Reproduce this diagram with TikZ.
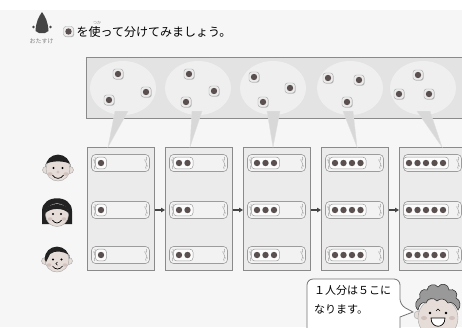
\documentclass[tikz,border=0pt]{standalone}
\usepackage{fontspec}
\newfontfamily\jp{Noto Sans CJK JP}
\usetikzlibrary{arrows.meta,shapes.geometric,calc}

\definecolor{pagebg}{HTML}{F6F6F6}
\definecolor{boxfill}{HTML}{E3E3E3}
\definecolor{boxline}{HTML}{8A8A8A}
\definecolor{colfill}{HTML}{EBEBEB}
\definecolor{trayfill}{HTML}{F2F2F2}
\definecolor{trayline}{HTML}{9C9C9C}
\definecolor{dotcol}{HTML}{5A5050}
\definecolor{skin}{HTML}{E6DDD8}
\definecolor{cheek}{HTML}{D2C2BE}
\definecolor{hair}{HTML}{222222}
\definecolor{tailfill}{HTML}{D8D8D8}
\definecolor{inkgray}{HTML}{444444}

\tikzset{
  colbox/.style={draw=boxline, fill=colfill, line width=0.8pt, minimum width=67pt,
    minimum height=123pt, inner sep=0pt},
  tray/.style={draw=trayline, fill=trayfill, rounded corners=4pt, minimum width=58pt,
    minimum height=17pt, line width=0.6pt, inner sep=0pt},
  innerbox/.style={draw=trayline, fill=white!80!trayfill, rounded corners=3pt, line width=0.5pt},
  dot/.style={fill=dotcol},
  arr/.style={draw=inkgray, line width=1.3pt, -{Triangle[length=4pt,width=4.5pt]}},
  blob/.style={ellipse, fill=white, fill opacity=0.45, minimum width=66pt, minimum height=54pt, inner sep=0pt},
  tail/.style={fill=tailfill, draw=white!75!gray, line width=0.4pt},
  facestyle/.style={fill=skin, draw=gray!70, line width=0.4pt},
  bubble/.style={fill=white, draw=gray!90!black, line width=0.8pt, rounded corners=6pt},
  token/.pic={
    \fill[gray!55, rounded corners=2.5pt] (-4.2,-4.2) rectangle (5.6,5.6);
    \draw[fill=white!85!gray, draw=gray!70, line width=0.4pt, rounded corners=2.5pt] (-5,-5) rectangle (5,5);
    \fill[dotcol] (0,0) circle (3.2pt);
  },
  orn/.pic={
    \draw[gray!70, line width=0.5pt] (0,-6) .. controls (2,-4) and (-2,-2) .. (0,0)
      .. controls (2,2) and (-2,4) .. (0,6);
    \fill[gray!55] (-1.3,-3) circle (0.7pt) (1.3,3) circle (0.7pt);
  }
}

\begin{document}
\begin{tikzpicture}[x=1pt,y=-1pt]
\useasboundingbox (0,0) rectangle (462,327);
\fill[pagebg] (0,0) rectangle (462,327);
\fill[white] (0,0) rectangle (462,10);

% header: helper mark and instruction
\fill[inkgray] (42,12) .. controls (45.5,17) and (48,22) .. (48.5,31) -- (45,33)
  -- (39,33) -- (35.5,31) .. controls (36,22) and (38.5,17) .. (42,12) -- cycle;
\fill[inkgray] (33.5,27) circle (1.4pt) (50.5,27) circle (1.4pt);
\node[font=\jp\fontsize{6}{6}\selectfont, text=gray] (help) at (41.5,41.5) {おたすけ};
\pic at (68.5,31.5) {token};
\node[font=\jp\fontsize{12}{13}\selectfont, anchor=west, inner sep=0pt] (title) at (76.5,31.5)
  {を使って分けてみましょう。};
\node[font=\jp\fontsize{4}{4}\selectfont, text=gray] (ruby) at (97,22.5) {つか};

% strip holding the loose tokens
\node[draw=boxline, fill=boxfill, line width=0.9pt, anchor=north west, minimum width=390pt,
  minimum height=61pt, inner sep=0pt] (strip) at (86,57) {};

\foreach \b/\bx in {1/123,2/198,3/273,4/350,5/423} {
  \node[blob] (b\b) at (\bx,88) {};
}

% columns with trays
\foreach \c/\xl/\off in {1/87/14,2/165/14,3/243/14,4/321/14,5/399/10} {
  \node[colbox, anchor=north west] (col\c) at (\xl,147) {};
  \foreach \r/\yy in {1/163,2/210,3/255} {
    \node[tray] (t\c\r) at (\xl+33.5,\yy) {};
    \pic at ([xshift=3.6pt]t\c\r.west) {orn};
    \pic at ([xshift=-3.6pt]t\c\r.east) {orn};
    \draw[innerbox] (\xl+\off-5.5,\yy-5.8) rectangle (\xl+\off+8.5*\c-8.5+5.5,\yy+5.8);
    \foreach \k in {1,...,\c} {
      \fill[dot] (\xl+\off+8.5*\k-8.5,\yy) circle (3.2pt);
    }
  }
}

% pointers from each group to its column
\foreach \b/\lo/\hi/\tip in {1/-8/5/21,2/-6/4/25,3/-6/7/30,4/-7/3/36,5/-6/7/43} {
  \filldraw[tail] ([xshift=\lo pt, yshift=4pt]b\b.south) -- ([xshift=\hi pt, yshift=4pt]b\b.south)
    -- ($(col\b.north west)+(\tip,0)$) -- cycle;
}

% loose tokens
\foreach \p in {(118,74),(109,100),(146,92),
                (189,74),(186,102),(214,91),
                (254,77),(290,88),(263,102),
                (328,78),(359,80),(347,102),
                (418,75),(399,94),(429,94)} {
  \pic at \p {token};
}

% arrows between columns (middle row)
\foreach \c/\d in {1/2,2/3,3/4,4/5} {
  \draw[arr] (col\c.east |- t\c2) -- (col\d.west |- t\d2);
}

% face 1: boy
\filldraw[facestyle] (46,170) circle (3.5pt) (70,170) circle (3.5pt);
\node[circle, facestyle, minimum size=24pt, inner sep=0pt] (face1) at (58,169) {};
\fill[hair] (45.6,167) arc[start angle=180, end angle=0, radius=12.4pt]
  -- (70.4,164) .. controls (64,160.5) and (52,160.5) .. (45.6,164) -- cycle;
\fill[cheek] (50,174) ellipse (2.6pt and 1.8pt) (66,174) ellipse (2.6pt and 1.8pt);
\fill[black] (53.5,168) circle (1.2pt) (62.5,168) circle (1.2pt);
\fill[cheek] (58,172) circle (1.6pt);
\draw[black, line width=0.7pt] (52.5,175) .. controls (55,179.5) and (61,179.5) .. (63.5,175);

% face 2: girl with bob hair
\fill[hair] (42,224) -- (42,211) .. controls (42,194) and (72,194) .. (72,211)
  -- (72,224) -- cycle;
\filldraw[facestyle] (57,215) circle (11.5pt);
\fill[hair] (45.5,213) .. controls (45.5,201) and (68.5,201) .. (68.5,213)
  .. controls (63,207.5) and (51,207.5) .. (45.5,213) -- cycle;
\fill[cheek] (50,219) ellipse (2.4pt and 1.7pt) (64,219) ellipse (2.4pt and 1.7pt);
\fill[black] (53,214) circle (1.1pt) (61,214) circle (1.1pt);
\draw[black, line width=0.7pt] (52.5,220) .. controls (55,224) and (59,224) .. (61.5,220);

% face 3: boy with side part
\filldraw[facestyle] (45,261) circle (3.5pt) (69,261) circle (3.5pt);
\node[circle, facestyle, minimum size=24pt, inner sep=0pt] (face3) at (57,260) {};
\fill[hair] (44.6,259) arc[start angle=180, end angle=0, radius=12.4pt]
  -- (69.4,255) .. controls (63,251) and (55,250) .. (50,254) -- (46,262) -- (44.6,259) -- cycle;
\fill[cheek] (49,265) ellipse (2.4pt and 1.7pt) (65,265) ellipse (2.4pt and 1.7pt);
\fill[black] (53,259.5) circle (1.1pt) (61.5,259.5) circle (1.1pt);
\draw[black, line width=0.6pt] (57.5,262) arc[start angle=90, end angle=270, radius=1.6pt];
\draw[black, line width=0.7pt] (52.5,266) .. controls (55,270) and (60,270) .. (62.5,266);

% speech bubble
\draw[bubble] (307,330) -- (307,279) -- (400,279) -- (400,305)
  [sharp corners] -- (413,312) -- (400,317) [rounded corners=6pt] -- (400,330);
\node[font=\jp\fontsize{11}{19}\selectfont, anchor=north west, align=left, inner sep=0pt]
  (say) at (314,285) {１人分は５こに\\なります。};

% boy who speaks
\filldraw[facestyle] (418,315) circle (4pt);
\node[circle, facestyle, minimum size=40pt, inner sep=0pt] (face4) at (438,318) {};
\filldraw[fill=gray!80, draw=gray!30!black, line width=0.5pt]
  (418,310) .. controls (413,305) and (417,299) .. (420,298)
  .. controls (418,292) and (423,288) .. (427,290)
  .. controls (428,284) and (435,283) .. (438,287)
  .. controls (441,282) and (449,284) .. (449,290)
  .. controls (454,288) and (459,293) .. (456,298)
  .. controls (461,300) and (461,307) .. (458,310)
  .. controls (455,304) and (452,301) .. (448,303)
  .. controls (445,298) and (440,298) .. (437,301)
  .. controls (434,297) and (427,298) .. (426,303)
  .. controls (422,301) and (419,305) .. (418,310) -- cycle;
\fill[black] (430,313) circle (1.3pt) (446,313) circle (1.3pt);
\draw[black, line width=0.6pt] (436,311) -- (438,309) -- (440,311);
\fill[cheek] (424,318) ellipse (3pt and 2pt) (452,318) ellipse (3pt and 2pt);
\filldraw[fill=white, draw=black, line width=0.7pt] (431,318) -- (445,318)
  .. controls (445,329) and (431,329) .. (431,318) -- cycle;
\end{tikzpicture}
\end{document}
